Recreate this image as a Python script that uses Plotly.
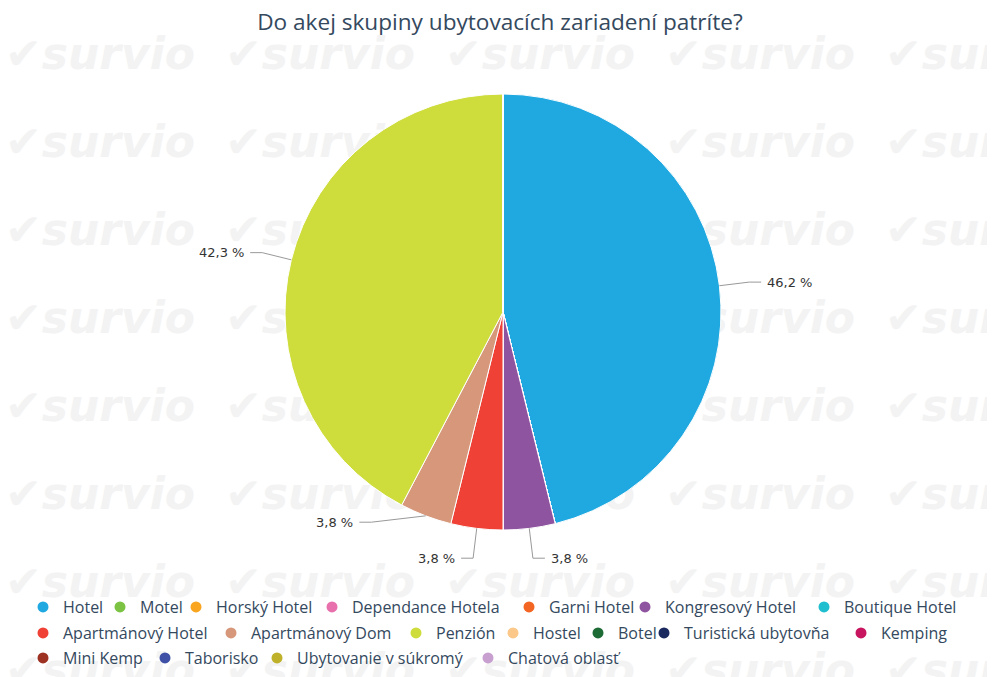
import math
import plotly.graph_objects as go

# ---------------- data ----------------
categories = ["Hotel", "Motel", "Horský Hotel", "Dependance Hotela", "Garni Hotel",
              "Kongresový Hotel", "Boutique Hotel", "Apartmánový Hotel", "Apartmánový Dom",
              "Penzión", "Hostel", "Botel", "Turistická ubytovňa", "Kemping", "Mini Kemp",
              "Taborisko", "Ubytovanie v súkromý", "Chatová oblasť"]
counts = [12, 0, 0, 0, 0, 1, 0, 1, 1, 11, 0, 0, 0, 0, 0, 0, 0, 0]
colors = ["#20a9e1", "#7cc243", "#f9a520", "#e870ad", "#f26522", "#8f54a0", "#1fbfcf",
          "#ef4136", "#d6977a", "#cedd3b", "#fcc88a", "#1d6b35", "#1b2a5e", "#c8155f",
          "#9d3222", "#3f51a6", "#bfb22a", "#c8a0d0"]
title_text = "Do akej skupiny ubytovacích zariadení patríte?"

# legend layout (marker centre x in page pixels, row index) — flow layout as in the original
legend_x = [47, 124, 200, 336, 533, 649, 828,
            47, 235, 420, 517, 602, 668, 865,
            47, 169, 281, 492]
legend_row = [0] * 7 + [1] * 7 + [2] * 4
row_y = [607, 633, 658]

W, H = 995, 677
OFF = 8  # page body margin of the html page
L, R_, T, B = 72, 77, 86, 155
PW, PH = W - L - R_, H - T - B

TEXT = "#34495e"

def px2x(px):
    return (px - OFF - L) / PW

def py2y(py):
    return 1 - (py - OFF - T) / PH

fig = go.Figure()
fig.add_trace(go.Pie(
    labels=categories, values=counts, sort=False, direction="clockwise", rotation=0,
    marker=dict(colors=colors, line=dict(color="white", width=1)),
    textinfo="none", hoverinfo="label+percent", showlegend=False,
    domain=dict(x=[0, 1], y=[0, 1]),
))

legend_layouts = {}
for i, (cat, col) in enumerate(zip(categories, colors)):
    lid = "legend" if i == 0 else f"legend{i + 1}"
    fig.add_trace(go.Scatter(x=[None], y=[None], mode="markers", name=cat,
                             marker=dict(color=col, size=11, symbol="circle"),
                             showlegend=True, hoverinfo="skip", legend=lid))
    legend_layouts[lid] = dict(
        orientation="h", x=px2x(legend_x[i] - 24), xanchor="left",
        y=py2y(row_y[legend_row[i]]), yanchor="middle",
        font=dict(family="Open Sans", size=16, color=TEXT),
        itemwidth=30, bgcolor="rgba(0,0,0,0)", borderwidth=0)

# ---------------- data labels with connectors ----------------
cx, cy = OFF + L + PW / 2, OFF + T + PH / 2
Rad = min(PW, PH) / 2
Rl = Rad + 30
total = sum(counts)

labels_info = []
cum = 0
for v in counts:
    if v > 0:
        mid = (cum + v / 2) / total * 2 * math.pi
        ex, ey = cx + Rad * math.sin(mid), cy - Rad * math.cos(mid)
        side = 1 if math.sin(mid) >= 0 else -1
        y = cy - Rl * math.cos(mid)
        labels_info.append(dict(v=v, ex=ex, ey=ey, side=side, y=y))
    cum += v

for side in (1, -1):
    items = sorted([d for d in labels_info if d["side"] == side], key=lambda d: -d["y"])
    for i in range(1, len(items)):
        if items[i]["y"] > items[i - 1]["y"] - 36:
            items[i]["y"] = items[i - 1]["y"] - 36

shapes = []
annotations = []
for d in labels_info:
    y = d["y"]
    x = cx + d["side"] * math.sqrt(max(Rl ** 2 - (y - cy) ** 2, 0))
    pct = f"{d['v'] / total * 100:.1f}".replace(".", ",") + " %"
    tx = x + d["side"] * 16
    annotations.append(dict(x=px2x(tx), y=py2y(y), xref="paper", yref="paper", text=pct,
                            showarrow=False, xanchor="left" if d["side"] > 0 else "right",
                            yanchor="middle",
                            font=dict(family="DejaVu Sans", size=13, color="#333333")))
    sx = x + d["side"] * 12
    path = (f"M {px2x(sx)},{py2y(y)} L {px2x(x)},{py2y(y)} "
            f"L {px2x(d['ex'])},{py2y(d['ey'])}")
    shapes.append(dict(type="path", path=path, xref="paper", yref="paper",
                       line=dict(color="#999999", width=1)))

# ---------------- background watermark ----------------
wm_cols = [10, 230, 450, 670, 890]
wm_rows = [50, 138, 226, 314, 402, 490, 578, 666]
for r in wm_rows:
    for c in wm_cols:
        shapes.append(dict(type="rect", xref="paper", yref="paper", layer="below",
                           x0=px2x(c), x1=px2x(c + 180), y0=py2y(r + 25), y1=py2y(r - 25),
                           line=dict(width=0), fillcolor="rgba(0,0,0,0)",
                           label=dict(text="✔survio", textposition="middle center",
                                      font=dict(family="DejaVu Sans", size=44,
                                                color="#f3f3f3", weight="bold",
                                                style="italic"))))

fig.update_layout(
    width=W, height=H,
    margin=dict(l=L, r=R_, t=T, b=B, autoexpand=False),
    paper_bgcolor="white", plot_bgcolor="rgba(0,0,0,0)",
    title=dict(text=title_text, x=(500 - OFF) / W, xref="container", xanchor="center",
               y=1 - (22 - OFF) / H, yref="container", yanchor="middle",
               font=dict(family="Open Sans", size=22.6, color=TEXT)),
    xaxis=dict(visible=False), yaxis=dict(visible=False),
    shapes=shapes, annotations=annotations,
    **legend_layouts,
)

fig.write_html("out.html")
